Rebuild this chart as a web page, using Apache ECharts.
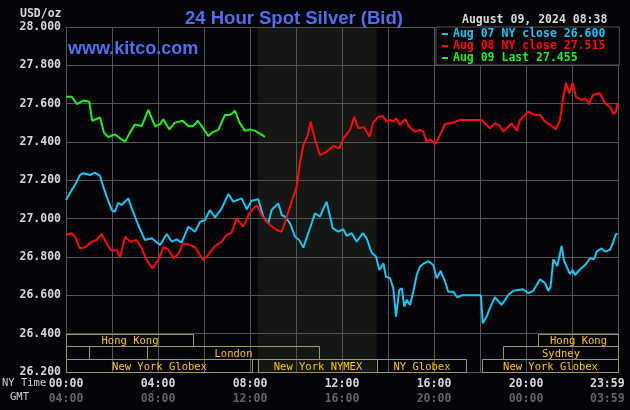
<!DOCTYPE html>
<html><head><meta charset="utf-8">
<script src="https://cdn.jsdelivr.net/npm/echarts@6/dist/echarts.min.js"></script>
<style>html,body{margin:0;padding:0;background:#050408}#c{width:630px;height:410px}</style>
</head><body><div id="c"></div><script>
// ---- data (hours since NY midnight, USD/oz) ----
const aug07Hours  = [0.00,0.25,0.43,0.61,0.75,1.04,1.26,1.48,1.62,1.77,1.99,2.13,2.27,2.42,2.71,2.86,3.14,3.43,3.73,4.09,4.38,4.60,4.81,5.03,5.32,5.61,5.83,6.04,6.26,6.48,6.77,7.06,7.27,7.64,7.86,8.07,8.36,8.58,8.80,8.94,9.23,9.38,9.52,9.74,9.96,10.14,10.32,10.53,10.83,11.04,11.33,11.60,11.84,12.06,12.20,12.42,12.64,12.90,13.07,13.29,13.48,13.62,13.80,13.91,14.09,14.23,14.35,14.49,14.60,14.71,14.81,14.96,15.10,15.25,15.39,15.57,15.75,15.97,16.12,16.29,16.48,16.62,16.84,17.01,17.20,18.04,18.12,18.29,18.43,18.65,18.94,19.23,19.45,19.88,20.10,20.32,20.61,20.83,20.97,21.07,21.19,21.36,21.55,21.65,21.91,22.03,22.13,22.35,22.57,22.78,22.96,23.07,23.29,23.43,23.65,23.80,23.91,23.98];
const aug07Values = [27.097,27.150,27.185,27.228,27.237,27.228,27.240,27.223,27.167,27.115,27.045,27.036,27.083,27.071,27.106,27.054,26.967,26.889,26.898,26.863,26.920,26.880,26.892,26.875,26.958,26.932,26.984,26.993,27.045,27.007,27.054,27.129,27.089,27.106,27.049,27.094,27.101,27.010,26.976,27.045,27.080,27.019,27.010,26.976,26.906,26.889,26.849,26.924,27.028,27.010,27.089,26.950,26.932,26.945,26.910,26.924,26.880,26.924,26.898,26.822,26.802,26.732,26.767,26.697,26.689,26.637,26.489,26.628,26.637,26.541,26.576,26.550,26.619,26.706,26.750,26.767,26.779,26.758,26.689,26.727,26.671,26.619,26.619,26.590,26.600,26.600,26.454,26.489,26.532,26.590,26.550,26.602,26.624,26.632,26.611,26.624,26.684,26.663,26.624,26.645,26.788,26.753,26.857,26.784,26.711,26.732,26.706,26.736,26.758,26.793,26.788,26.828,26.845,26.828,26.837,26.880,26.920,26.920];

const aug08Hours  = [0.00,0.25,0.39,0.61,0.83,1.12,1.33,1.55,1.84,1.99,2.20,2.35,2.57,2.78,3.07,3.29,3.51,3.77,4.01,4.23,4.45,4.67,4.88,5.10,5.39,5.61,5.97,6.12,6.48,6.77,6.99,7.20,7.42,7.71,7.97,8.29,8.51,8.65,8.87,9.16,9.38,9.60,9.81,10.03,10.17,10.32,10.49,10.64,10.83,11.04,11.33,11.62,11.88,12.06,12.35,12.53,12.71,12.96,13.19,13.36,13.58,13.77,13.94,14.09,14.23,14.35,14.52,14.74,14.93,15.17,15.39,15.53,15.68,15.83,16.04,16.19,16.48,16.70,16.91,17.13,18.07,18.22,18.43,18.65,18.87,19.01,19.23,19.38,19.60,19.74,20.10,20.39,20.61,20.83,21.12,21.30,21.48,21.60,21.74,21.88,22.03,22.17,22.42,22.57,22.75,22.90,23.22,23.43,23.65,23.80,23.91,23.98];
const aug08Values = [26.915,26.924,26.906,26.845,26.851,26.880,26.889,26.920,26.854,26.833,26.837,26.798,26.906,26.880,26.889,26.845,26.784,26.741,26.784,26.851,26.840,26.793,26.816,26.871,26.863,26.851,26.784,26.802,26.857,26.880,26.915,26.927,27.002,26.958,27.028,27.071,27.019,26.993,26.967,26.941,26.932,27.010,27.089,27.167,27.289,27.384,27.428,27.506,27.411,27.332,27.349,27.379,27.367,27.419,27.463,27.532,27.472,27.477,27.428,27.500,27.532,27.536,27.506,27.515,27.506,27.524,27.489,27.519,27.480,27.454,27.463,27.454,27.402,27.414,27.390,27.419,27.494,27.498,27.506,27.515,27.515,27.498,27.472,27.498,27.484,27.454,27.480,27.498,27.459,27.515,27.558,27.541,27.541,27.506,27.484,27.466,27.515,27.619,27.709,27.654,27.709,27.636,27.619,27.628,27.597,27.645,27.654,27.602,27.584,27.546,27.558,27.602];

const aug09Hours  = [0.00,0.25,0.47,0.75,1.01,1.14,1.48,1.65,1.84,2.13,2.35,2.57,2.78,3.00,3.29,3.58,3.87,4.09,4.23,4.49,4.74,5.07,5.32,5.53,5.73,5.90,6.19,6.40,6.62,6.91,7.13,7.35,7.53,7.78,8.00,8.22,8.43,8.65];
const aug09Values = [27.636,27.636,27.598,27.616,27.610,27.511,27.528,27.449,27.426,27.440,27.419,27.402,27.449,27.492,27.483,27.567,27.483,27.492,27.518,27.466,27.501,27.511,27.483,27.483,27.511,27.483,27.431,27.453,27.462,27.541,27.541,27.563,27.505,27.458,27.466,27.458,27.444,27.427];

const seriesLabels = ['Aug 07 NY close 26.600', 'Aug 08 NY close 27.515', 'Aug 09 Last 27.455'];

const yTicks = { min: 26.2, max: 28.0, interval: 0.2 };
const xTicks = { min: 0, max: 24, interval: 2 };
const nyTimeLabels  = {0:'00:00', 4:'04:00', 8:'08:00', 12:'12:00', 16:'16:00', 20:'20:00', 24:'23:59'};
const gmtTimeLabels = {0:'04:00', 4:'08:00', 8:'12:00', 12:'16:00', 16:'20:00', 20:'00:00', 24:'03:59'};

// trading sessions: row 0 = top band
const sessionNames = ['Hong Kong', 'Hong Kong', '', 'London', 'Sydney', 'New York Globex', 'New York NYMEX', 'NY Globex', 'New York Globex'];
const sessionStart = [0, 20.5, 0, 3.5, 19, 0, 8.33, 13.5, 18.08];
const sessionEnd   = [5.5, 24, 1, 11, 24, 8.1, 13.5, 17.4, 24];
const sessionRow   = [0, 0, 1, 1, 1, 2, 2, 2, 2];
const nymexShade   = [8.33, 13.5];

const COLORS = ['#13c8f4', '#ff0a0a', '#1ef01e'];
const GRID = '#545454';
const MONO = '"DejaVu Sans Mono", monospace';
const BLUE = '#4f6ff0';

const pairs = (h, v) => h.map((x, i) => [x, v[i]]);
const ROW_H = yTicks.interval / 3;

const chart = echarts.init(document.getElementById('c'));
const lbl = { fontFamily: MONO, fontWeight: 'bold', fontSize: 11.5, lineHeight: 14.5 };

chart.setOption({
  animation: false,
  backgroundColor: '#050408',
  title: {
    text: '24 Hour Spot Silver (Bid)', left: 180, top: 4,
    textStyle: { color: BLUE, fontFamily: '"Liberation Sans", Arial, sans-serif', fontWeight: 'bold', fontSize: 18.5 }
  },
  grid: { left: 66, top: 27, width: 552, height: 345, containLabel: false, outerBoundsMode: 'none' },
  legend: {
    orient: 'vertical', left: 436, top: 27, itemGap: 0, itemWidth: 6, itemHeight: 2, icon: 'rect',
    padding: [1, 14, 1, 6], backgroundColor: '#050408', borderColor: GRID, borderWidth: 1,
    selectedMode: false, z: 5,
    textStyle: { fontFamily: MONO, fontWeight: 'bold', fontSize: 11.5, lineHeight: 12 },
    data: seriesLabels.map((n, i) => ({ name: n, textStyle: { color: COLORS[i] } }))
  },
  xAxis: {
    type: 'value', min: xTicks.min, max: xTicks.max, interval: xTicks.interval, z: 1,
    axisLine: { show: true, lineStyle: { color: GRID } }, axisTick: { show: false },
    splitLine: { show: true, lineStyle: { color: GRID } },
    axisLabel: {
      margin: 5, showMinLabel: true, showMaxLabel: true, hideOverlap: false,
      formatter: v => {
        if (!(v in nyTimeLabels)) return '';
        return v === xTicks.max ? `{c|${nyTimeLabels[v]}}\n{d|${gmtTimeLabels[v]}}`
                                : `{a|${nyTimeLabels[v]}}\n{b|${gmtTimeLabels[v]}}`;
      },
      rich: {
        a: Object.assign({ color: '#d8d8d8' }, lbl),
        b: Object.assign({ color: '#646464' }, lbl),
        c: Object.assign({ color: '#d8d8d8', width: 56, align: 'left' }, lbl),
        d: Object.assign({ color: '#646464', width: 56, align: 'left' }, lbl)
      }
    }
  },
  yAxis: {
    type: 'value', min: yTicks.min, max: yTicks.max, interval: yTicks.interval, z: 1,
    axisLine: { show: true, lineStyle: { color: GRID } }, axisTick: { show: false },
    splitLine: { show: true, lineStyle: { color: GRID } },
    axisLabel: { color: '#d8d8d8', fontFamily: MONO, fontWeight: 'bold', fontSize: 11.5, margin: 5,
      formatter: v => v.toFixed(3) }
  },
  graphic: [
    { type: 'text', left: 20, top: 8, z: 10, style: { text: 'USD/oz', fill: '#d8d8d8', font: 'bold 11.5px ' + MONO } },
    { type: 'text', left: 68, top: 40, z: 10, style: { text: 'www.kitco.com', fill: BLUE, font: 'bold 18px "Liberation Sans", Arial, sans-serif' } },
    { type: 'text', left: 462, top: 14, z: 10, style: { text: 'August 09, 2024 08:38', fill: '#d8d8d8', font: 'bold 11.5px ' + MONO } },
    { type: 'text', left: 2, top: 378, z: 10, style: { text: 'NY Time', fill: '#d0d0d0', font: '10.5px ' + MONO } },
    { type: 'text', left: 10, top: 392, z: 10, style: { text: 'GMT', fill: '#d0d0d0', font: '10.5px ' + MONO } }
  ],
  series: [
    {
      type: 'custom', z: 0, silent: true, clip: false,
      data: [nymexShade],
      renderItem: (params, api) => {
        const p1 = api.coord([api.value(0), yTicks.max]);
        const p2 = api.coord([api.value(1), yTicks.min]);
        return { type: 'rect', shape: { x: p1[0], y: p1[1], width: p2[0] - p1[0], height: p2[1] - p1[1] },
                 style: { fill: '#141714' } };
      }
    },
    {
      type: 'custom', z: 2, silent: true, clip: false,
      data: sessionStart.map((s, i) => [s, sessionEnd[i], sessionRow[i]]),
      renderItem: (params, api) => {
        const r = api.value(2);
        const p1 = api.coord([api.value(0), yTicks.min + (3 - r) * ROW_H]);
        const p2 = api.coord([api.value(1), yTicks.min + (2 - r) * ROW_H]);
        const x = Math.round(p1[0]) + 0.5, y = Math.round(p1[1]) + 0.5;
        const w = Math.round(p2[0]) - Math.round(p1[0]), h = Math.round(p2[1]) - Math.round(p1[1]);
        return { type: 'group', children: [
          { type: 'rect', shape: { x, y, width: w, height: h }, style: { fill: null, stroke: '#9c9868', lineWidth: 1 } },
          { type: 'text', style: { text: sessionNames[params.dataIndex], x: x + w / 2, y: y + h / 2 + 1,
              align: 'center', verticalAlign: 'middle', fill: '#ffc800', font: '10.5px ' + MONO } }
        ] };
      }
    },
    { name: seriesLabels[0], type: 'line', z: 3, showSymbol: false, silent: true, color: COLORS[0],
      lineStyle: { width: 2, color: COLORS[0] }, data: pairs(aug07Hours, aug07Values) },
    { name: seriesLabels[1], type: 'line', z: 3, showSymbol: false, silent: true, color: COLORS[1],
      lineStyle: { width: 2, color: COLORS[1] }, data: pairs(aug08Hours, aug08Values) },
    { name: seriesLabels[2], type: 'line', z: 3, showSymbol: false, silent: true, color: COLORS[2],
      lineStyle: { width: 2, color: COLORS[2] }, data: pairs(aug09Hours, aug09Values) }
  ]
});
</script></body></html>
